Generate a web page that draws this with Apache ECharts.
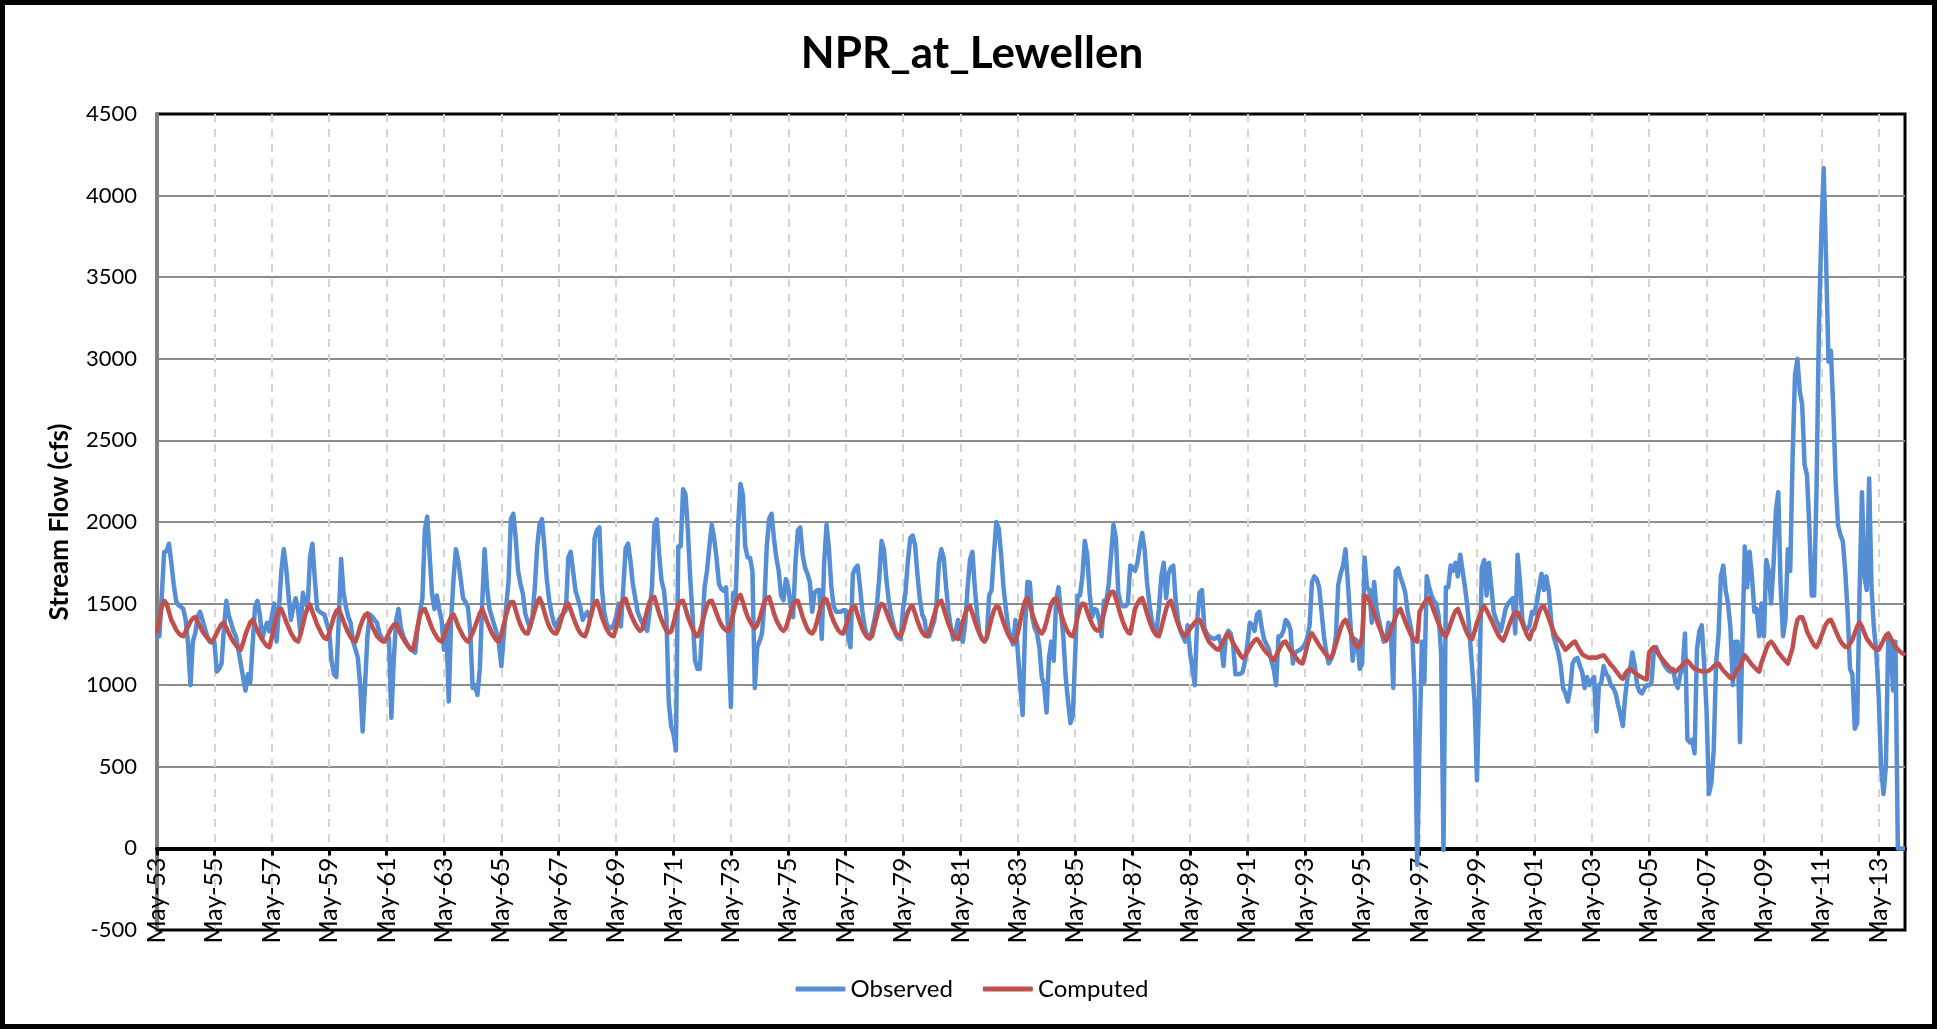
<!DOCTYPE html>
<html>
<head>
<meta charset="utf-8">
<script src="https://cdn.jsdelivr.net/npm/echarts@6/dist/echarts.min.js"></script>
<style>
html,body{margin:0;padding:0;background:#fff;}
#chart{width:1944px;height:1029px;}
</style>
</head>
<body>
<div id="chart"></div>
<script>
// ---- DATA ----
const startYear = 1953;          // first month: May 1953
const startMonth = 4;            // 0 = Jan
const monthCount = 732;          // May 1953 .. Apr 2014
const monthNames = ['Jan','Feb','Mar','Apr','May','Jun','Jul','Aug','Sep','Oct','Nov','Dec'];
const tickLabels = ['May-53','May-55','May-57','May-59','May-61','May-63','May-65','May-67','May-69','May-71','May-73','May-75','May-77','May-79','May-81','May-83','May-85','May-87','May-89','May-91','May-93','May-95','May-97','May-99','May-01','May-03','May-05','May-07','May-09','May-11','May-13'];
const yTicks = [-500,0,500,1000,1500,2000,2500,3000,3500,4000,4500];

const observed = [
1350,1300,1550,1817,1820,1867,1750,1617,1517,1490,1480,1467,
1400,1250,1000,1267,1320,1420,1450,1400,1350,1300,1267,1260,
1267,1083,1100,1133,1350,1517,1430,1380,1330,1300,1220,1133,
1050,967,1067,1017,1250,1480,1517,1433,1283,1340,1383,1330,
1420,1500,1267,1467,1700,1833,1720,1550,1400,1480,1533,1460,
1317,1567,1500,1483,1783,1867,1650,1467,1450,1440,1433,1380,
1330,1150,1067,1050,1400,1773,1567,1480,1420,1380,1267,1220,
1167,1000,717,1000,1300,1433,1420,1400,1383,1320,1290,1267,
1280,1290,800,1150,1400,1467,1350,1300,1270,1240,1220,1210,
1200,1350,1450,1533,1950,2033,1800,1560,1467,1550,1467,1400,
1217,1367,900,1400,1650,1833,1760,1650,1533,1510,1480,1333,
983,1000,940,1100,1500,1833,1600,1470,1420,1370,1320,1250,
1117,1300,1480,1633,2017,2050,1900,1700,1620,1560,1440,1390,
1350,1420,1600,1850,1990,2017,1850,1650,1520,1440,1380,1350,
1400,1420,1440,1460,1780,1817,1700,1580,1530,1480,1400,1430,
1450,1410,1450,1900,1950,1967,1600,1450,1380,1350,1350,1370,
1420,1500,1360,1600,1840,1867,1760,1620,1533,1450,1410,1380,
1360,1333,1450,1600,1980,2017,1800,1640,1580,1433,900,750,
700,600,1850,1850,2200,2170,1950,1650,1420,1150,1100,1100,
1350,1600,1700,1850,1983,1900,1780,1620,1590,1580,1600,1267,
867,1567,1550,1967,2233,2167,1850,1783,1780,1700,983,1233,
1270,1317,1500,1850,2020,2050,1900,1780,1700,1550,1520,1650,
1600,1480,1417,1750,1950,1967,1800,1720,1683,1633,1450,1567,
1580,1583,1283,1750,1983,1833,1600,1483,1450,1450,1450,1460,
1460,1300,1233,1680,1717,1733,1600,1450,1350,1300,1290,1330,
1400,1480,1650,1883,1830,1650,1520,1430,1370,1310,1290,1283,
1467,1567,1760,1900,1917,1860,1680,1530,1433,1400,1300,1300,
1350,1390,1500,1750,1833,1780,1600,1450,1350,1280,1330,1400,
1300,1267,1380,1600,1770,1817,1600,1430,1317,1280,1270,1290,
1550,1583,1800,2000,1960,1800,1600,1467,1350,1290,1250,1400,
1200,1000,817,1350,1633,1630,1420,1350,1320,1233,1050,1000,
833,1167,1267,1150,1517,1600,1450,1300,1050,900,767,817,
1200,1550,1550,1667,1883,1800,1567,1417,1467,1460,1400,1300,
1517,1517,1620,1800,1983,1900,1567,1500,1483,1483,1500,1733,
1720,1700,1750,1850,1933,1833,1633,1500,1400,1340,1333,1467,
1667,1750,1533,1683,1720,1733,1520,1400,1330,1300,1267,1367,
1200,1100,1000,1400,1567,1583,1350,1317,1300,1290,1283,1290,
1300,1250,1117,1300,1333,1317,1250,1067,1067,1070,1080,1150,
1250,1383,1370,1333,1433,1450,1350,1280,1250,1220,1150,1100,
1000,1300,1300,1330,1400,1383,1340,1133,1200,1210,1217,1230,
1250,1290,1367,1633,1667,1650,1600,1450,1300,1200,1133,1160,
1200,1300,1617,1683,1733,1833,1633,1400,1150,1283,1267,1100,
1133,1783,1600,1583,1383,1633,1467,1400,1330,1267,1280,1383,
1317,983,1700,1717,1660,1620,1567,1450,1380,1300,933,-100,
667,1267,1017,1667,1600,1550,1517,1500,1420,1200,-10,1600,
1600,1733,1700,1750,1667,1800,1700,1600,1480,1300,1100,900,
417,1000,1717,1767,1550,1750,1600,1450,1400,1370,1333,1400,
1470,1500,1517,1533,1317,1800,1633,1400,1350,1340,1367,1450,
1440,1500,1600,1683,1583,1667,1583,1400,1300,1250,1200,1117,
983,950,900,983,1133,1160,1167,1120,1080,983,1050,1000,
1030,1050,717,1000,1017,1117,1070,1050,1000,983,950,880,
820,750,933,1050,1100,1200,1117,1000,960,950,980,1000,
1000,1017,1217,1233,1190,1167,1133,1110,1090,1083,1100,1017,
983,1067,1100,1317,667,650,667,583,1217,1333,1367,1133,
850,333,400,600,1133,1300,1667,1733,1583,1500,1350,1000,
1267,1267,650,1267,1850,1600,1817,1667,1450,1467,1300,1500,
1300,1767,1700,1500,1733,2067,2183,1600,1300,1400,1833,1700,
2400,2900,3000,2800,2720,2350,2290,1967,1550,1550,2200,3200,
3767,4167,3600,2983,3050,2700,2250,1980,1920,1883,1700,1450,
1100,1067,733,767,1567,2183,1667,1583,2267,1600,1350,1200,
933,500,333,500,1300,1267,967,1267,0,0,0,0
];

const computed = [
1317,1400,1480,1517,1500,1450,1400,1370,1340,1320,1305,1300,
1330,1360,1390,1410,1417,1390,1360,1330,1310,1290,1275,1267,
1290,1320,1350,1375,1383,1350,1320,1290,1265,1245,1228,1217,
1260,1310,1350,1385,1400,1370,1335,1305,1280,1258,1240,1233,
1290,1360,1420,1460,1467,1430,1390,1355,1320,1295,1275,1267,
1310,1370,1430,1475,1493,1450,1410,1370,1340,1310,1290,1283,
1320,1370,1420,1455,1467,1430,1390,1355,1320,1295,1275,1267,
1310,1360,1400,1430,1440,1400,1360,1330,1300,1285,1272,1267,
1290,1320,1350,1370,1373,1340,1310,1285,1260,1240,1225,1217,
1280,1360,1430,1460,1467,1430,1390,1350,1320,1295,1275,1267,
1300,1340,1385,1420,1433,1400,1360,1330,1300,1280,1267,1290,
1320,1360,1400,1440,1467,1430,1390,1355,1320,1295,1275,1267,
1310,1370,1430,1480,1510,1510,1460,1410,1370,1340,1320,1317,
1360,1410,1460,1510,1533,1500,1450,1400,1360,1335,1320,1317,
1350,1400,1450,1490,1500,1460,1420,1380,1345,1320,1305,1300,
1340,1400,1460,1505,1517,1470,1420,1380,1345,1320,1305,1300,
1350,1420,1490,1525,1530,1480,1440,1405,1375,1350,1333,1345,
1400,1460,1510,1535,1540,1490,1440,1400,1365,1335,1320,1330,
1380,1440,1490,1515,1517,1470,1420,1380,1345,1315,1300,1330,
1380,1440,1490,1515,1517,1480,1440,1400,1370,1350,1335,1333,
1380,1440,1500,1540,1553,1510,1460,1420,1390,1365,1350,1370,
1410,1460,1510,1535,1540,1490,1440,1400,1370,1345,1333,1350,
1400,1450,1495,1515,1517,1470,1420,1380,1345,1325,1317,1340,
1390,1450,1500,1530,1525,1480,1430,1390,1360,1335,1320,1317,
1360,1410,1455,1480,1480,1430,1385,1345,1315,1295,1285,1300,
1360,1420,1475,1498,1490,1450,1410,1375,1345,1320,1305,1300,
1340,1400,1450,1478,1483,1440,1395,1355,1325,1305,1300,1330,
1380,1430,1480,1510,1517,1470,1420,1375,1340,1310,1290,1283,
1330,1390,1440,1475,1483,1440,1395,1350,1315,1285,1267,1290,
1350,1410,1460,1483,1478,1430,1385,1345,1310,1285,1270,1267,
1320,1390,1460,1515,1533,1490,1440,1395,1360,1330,1317,1340,
1390,1450,1500,1525,1533,1490,1440,1395,1355,1325,1305,1300,
1350,1420,1475,1500,1495,1450,1410,1375,1350,1335,1335,1380,
1440,1500,1545,1570,1573,1530,1480,1430,1385,1350,1325,1317,
1390,1467,1500,1525,1533,1490,1440,1395,1355,1325,1305,1300,
1350,1410,1465,1505,1517,1470,1420,1375,1340,1315,1300,1320,
1345,1365,1385,1398,1400,1370,1330,1295,1265,1250,1235,1222,
1217,1240,1270,1300,1317,1290,1260,1235,1210,1185,1167,1180,
1205,1230,1255,1275,1283,1265,1240,1217,1200,1185,1170,1152,
1180,1210,1240,1262,1267,1240,1215,1195,1175,1155,1140,1133,
1180,1240,1295,1317,1295,1270,1245,1225,1205,1185,1170,1167,
1205,1250,1300,1350,1385,1400,1370,1330,1290,1250,1233,1240,
1300,1550,1540,1517,1480,1440,1400,1360,1325,1295,1273,1300,
1340,1380,1420,1455,1467,1430,1390,1355,1320,1290,1275,1267,
1450,1480,1505,1525,1533,1495,1455,1415,1375,1340,1310,1300,
1335,1380,1420,1455,1467,1430,1390,1350,1315,1290,1283,1330,
1383,1420,1460,1483,1460,1430,1400,1367,1335,1305,1285,1273,
1310,1350,1390,1425,1445,1445,1415,1380,1340,1305,1283,1330,
1350,1400,1450,1480,1483,1450,1410,1370,1330,1300,1280,1267,
1240,1217,1230,1245,1260,1267,1240,1215,1190,1180,1172,1167,
1170,1170,1168,1175,1180,1183,1165,1145,1125,1110,1090,1070,
1050,1040,1070,1090,1100,1090,1075,1065,1055,1048,1040,1035,
1200,1220,1233,1215,1190,1170,1150,1133,1115,1100,1090,1083,
1095,1110,1125,1140,1150,1135,1115,1100,1095,1090,1085,1083,
1085,1090,1100,1117,1125,1133,1110,1090,1075,1060,1045,1040,
1070,1100,1110,1150,1183,1165,1145,1125,1110,1095,1083,1140,
1180,1225,1255,1267,1250,1225,1200,1183,1165,1150,1133,1180,
1230,1330,1400,1417,1417,1380,1330,1300,1270,1245,1233,1260,
1300,1340,1375,1395,1400,1370,1335,1300,1270,1250,1235,1233,
1255,1280,1320,1360,1383,1360,1320,1285,1265,1245,1230,1220,
1217,1245,1275,1305,1317,1290,1260,1235,1220,1205,1195,1183
];

// category labels (one per month)
const categories = [];
for (let i = 0; i < monthCount; i++) {
  const m = (startMonth + i) % 12;
  const y = startYear + Math.floor((startMonth + i) / 12);
  categories.push(monthNames[m] + '-' + String(y % 100).padStart(2, '0'));
}

// ---- CHART ----
const FONT = 'Lato, "Liberation Sans", sans-serif';
const GRID_TOP = 114, GRID_BOTTOM = 99, H = 1029;
const plotH = H - GRID_TOP - GRID_BOTTOM;
const zeroOffset = -plotH * (0 - yTicks[0]) / (yTicks[yTicks.length - 1] - yTicks[0]);

const chart = echarts.init(document.getElementById('chart'), null, {renderer: 'canvas'});
chart.setOption({
  animation: false,
  backgroundColor: '#ffffff',
  title: {
    text: 'NPR_at_Lewellen',
    left: 'center',
    top: 27,
    textStyle: {fontFamily: FONT, fontSize: 44, fontWeight: 'bold', color: '#000'}
  },
  legend: {
    data: ['Observed', 'Computed'],
    left: 'center',
    bottom: 23,
    icon: 'roundRect',
    itemWidth: 50,
    itemHeight: 5,
    itemGap: 30,
    textStyle: {fontFamily: FONT, fontSize: 24, color: '#000'}
  },
  graphic: [{
    type: 'rect',
    shape: {x: 2.5, y: 2.5, width: 1932, height: 1024},
    style: {fill: 'none', stroke: '#000', lineWidth: 5},
    silent: true, z: 100
  }],
  grid: {
    left: 157, right: 39, top: GRID_TOP, bottom: GRID_BOTTOM,
    show: true, borderColor: '#000', borderWidth: 3, backgroundColor: '#fff'
  },
  xAxis: {
    type: 'category',
    data: categories,
    boundaryGap: false,
    offset: zeroOffset,
    axisLine: {onZero: false, lineStyle: {color: '#000', width: 4}},
    axisTick: {show: true, interval: 23, length: 7, lineStyle: {color: '#000', width: 3}},
    axisLabel: {
      interval: 23, rotate: 90, margin: 9,
      fontFamily: FONT, fontSize: 25, color: '#000',
      formatter: function (v) { return tickLabels.indexOf(v) >= 0 ? v : ''; }
    },
    splitLine: {show: true, interval: 23, lineStyle: {color: '#d4d4d4', width: 2, type: [8, 7]}}
  },
  yAxis: {
    type: 'value',
    min: yTicks[0], max: yTicks[yTicks.length - 1], interval: 500,
    name: 'Stream Flow (cfs)',
    nameLocation: 'middle',
    nameGap: 84,
    nameTextStyle: {fontFamily: FONT, fontSize: 26, fontWeight: 'bold', color: '#000'},
    axisLine: {show: true, lineStyle: {color: '#808080', width: 3}},
    axisTick: {show: false},
    axisLabel: {
      margin: 20, fontFamily: FONT, fontSize: 22, color: '#000',
      formatter: function (v) { return String(v); }
    },
    splitLine: {show: true, showMinLine: false, showMaxLine: false, lineStyle: {color: '#8c8c8c', width: 2}}
  },
  series: [
    {
      name: 'Observed', type: 'line', data: observed,
      showSymbol: false, symbol: 'none',
      lineStyle: {color: '#558ED5', width: 4.5, join: 'round'},
      itemStyle: {color: '#558ED5'}
    },
    {
      name: 'Computed', type: 'line', data: computed,
      showSymbol: false, symbol: 'none',
      lineStyle: {color: '#C0504D', width: 4.5, join: 'round'},
      itemStyle: {color: '#C0504D'}
    }
  ]
});
</script>
</body>
</html>
